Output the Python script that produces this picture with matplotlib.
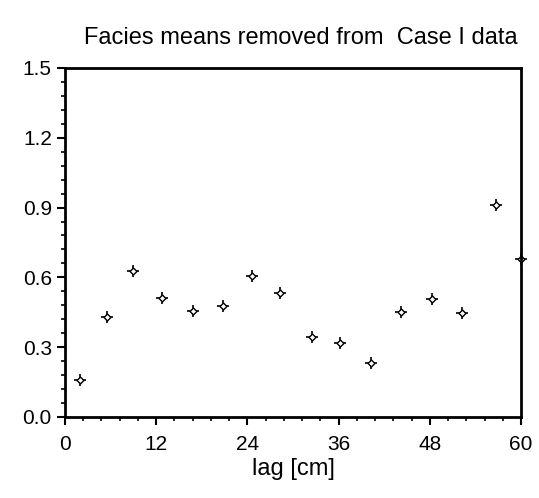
import numpy as np
import matplotlib
matplotlib.use("Agg")
import matplotlib.pyplot as plt
from matplotlib.ticker import MultipleLocator

lag = [2.0, 5.5, 9.0, 12.8, 16.8, 20.8, 24.6, 28.3, 32.5, 36.2, 40.3, 44.2, 48.3, 52.3, 56.7, 60.0]
gamma = [0.158, 0.43, 0.628, 0.512, 0.456, 0.477, 0.608, 0.531, 0.344, 0.318, 0.232, 0.45, 0.505, 0.449, 0.91, 0.681]

plt.rcParams['font.family'] = ['Liberation Sans', 'DejaVu Sans']

fig = plt.figure(figsize=(5.39, 4.98), dpi=100)
ax = fig.add_axes([0.1206, 0.1627, 0.846, 0.7008])

ax.plot(lag, gamma, linestyle='none', marker='+', markersize=8, color='black',
        markeredgewidth=1.2, clip_on=False)
ax.plot(lag, gamma, linestyle='none', marker='D', markersize=3.5, markerfacecolor='white',
        markeredgecolor='black', markeredgewidth=1.0, clip_on=False)

ax.set_xlim(0, 60)
ax.set_ylim(0, 1.5)
ax.xaxis.set_major_locator(MultipleLocator(12))
ax.xaxis.set_minor_locator(MultipleLocator(2.4))
ax.yaxis.set_major_locator(MultipleLocator(0.3))
ax.yaxis.set_minor_locator(MultipleLocator(0.06))
ax.set_yticklabels(['%.1f' % v for v in ax.get_yticks()])

for s in ax.spines.values():
    s.set_linewidth(2)
ax.tick_params(which='major', direction='out', length=6, width=1.5, labelsize=15)
ax.tick_params(axis='x', which='major', pad=7)
ax.tick_params(which='minor', direction='out', length=3, width=1.2)

ax.set_xlabel('lag [cm]', fontsize=17, labelpad=3)
ax.set_title('Facies means removed from  Case I data', fontsize=17, pad=17, x=0.518)

fig.savefig('out.png', dpi=100)
